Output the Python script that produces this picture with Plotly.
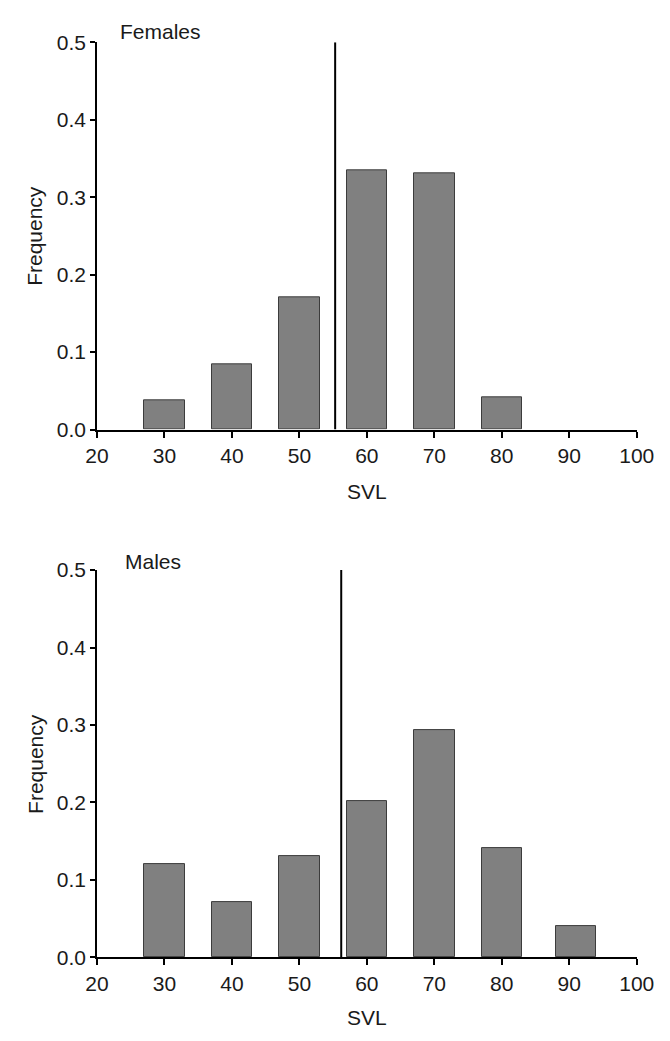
import plotly.graph_objects as go

# Data
svl_bins_f = [30, 40, 50, 60, 70, 80]
freq_f = [0.038, 0.084, 0.171, 0.335, 0.331, 0.042]
svl_bins_m = [30, 40, 50, 60, 70, 80, 91]
freq_m = [0.121, 0.071, 0.131, 0.202, 0.293, 0.141, 0.040]
cut_f = 55.3
cut_m = 56.2
line_y = [0, 0.5]
x_ticks = [20, 30, 40, 50, 60, 70, 80, 90, 100]
y_ticks = [0.0, 0.1, 0.2, 0.3, 0.4, 0.5]
y_ticklabels = ["0.0", "0.1", "0.2", "0.3", "0.4", "0.5"]

W, H = 670, 1041
FONT = "Liberation Sans, Arial, sans-serif"
FS = 21
TXT = "#1a1a1a"

def px(x):
    return x / W

def py(y):
    return 1 - y / H

fig = go.Figure()

bar_style = dict(marker=dict(color="#808080", line=dict(color="#3c3c3c", width=1)),
                 width=6, showlegend=False, hoverinfo="x+y")

fig.add_trace(go.Bar(x=svl_bins_f, y=freq_f, xaxis="x", yaxis="y", **bar_style))
fig.add_trace(go.Scatter(x=[cut_f, cut_f], y=line_y, mode="lines", xaxis="x", yaxis="y",
                         line=dict(color="black", width=2), showlegend=False))
fig.add_trace(go.Bar(x=svl_bins_m, y=freq_m, xaxis="x2", yaxis="y2", **bar_style))
fig.add_trace(go.Scatter(x=[cut_m, cut_m], y=line_y, mode="lines", xaxis="x2", yaxis="y2",
                         line=dict(color="black", width=2), showlegend=False))

xdom = [px(89), px(654)]
top_dom = [py(427), py(31)]
bot_dom = [py(966.7), py(570.7)]

xax = dict(range=[20, 100], domain=xdom, tickmode="array", tickvals=x_ticks,
           ticks="outside", ticklen=6, tickwidth=1.5, tickcolor="black",
           showline=True, linecolor="black", linewidth=2, showgrid=False, zeroline=False,
           tickfont=dict(family=FONT, size=FS, color=TXT), ticklabeloverflow="allow",
           fixedrange=True)
yax = dict(range=[0, 0.5], tickmode="array", tickvals=y_ticks, ticktext=y_ticklabels,
           ticks="outside", ticklen=5, tickwidth=1.5, tickcolor="black",
           showline=True, linecolor="black", linewidth=1.5, showgrid=False, zeroline=False,
           tickfont=dict(family=FONT, size=FS, color=TXT), ticklabeloverflow="allow",
           fixedrange=True)

fig.update_layout(
    width=W, height=H,
    margin=dict(l=0, r=0, t=0, b=0),
    paper_bgcolor="white", plot_bgcolor="white",
    bargap=0,
    xaxis=dict(xax, anchor="y"),
    yaxis=dict(yax, domain=top_dom, anchor="x"),
    xaxis2=dict(xax, anchor="y2"),
    yaxis2=dict(yax, domain=bot_dom, anchor="x2"),
)

ann_font = dict(family=FONT, size=FS, color=TXT)
annotations = [
    dict(text="Females", x=px(111), y=py(20), xanchor="left", yanchor="middle"),
    dict(text="Males", x=px(116), y=py(562), xanchor="left", yanchor="middle"),
    dict(text="SVL", x=px(371.5), y=py(490), xanchor="center", yanchor="middle"),
    dict(text="SVL", x=px(371.5), y=py(1028), xanchor="center", yanchor="middle"),
    dict(text="Frequency", x=px(24), y=py(229), xanchor="center", yanchor="middle", textangle=-90),
    dict(text="Frequency", x=px(24), y=py(769), xanchor="center", yanchor="middle", textangle=-90),
]
for a in annotations:
    a.update(xref="paper", yref="paper", showarrow=False, font=ann_font)
fig.update_layout(annotations=annotations)

fig.write_html("out.html")
